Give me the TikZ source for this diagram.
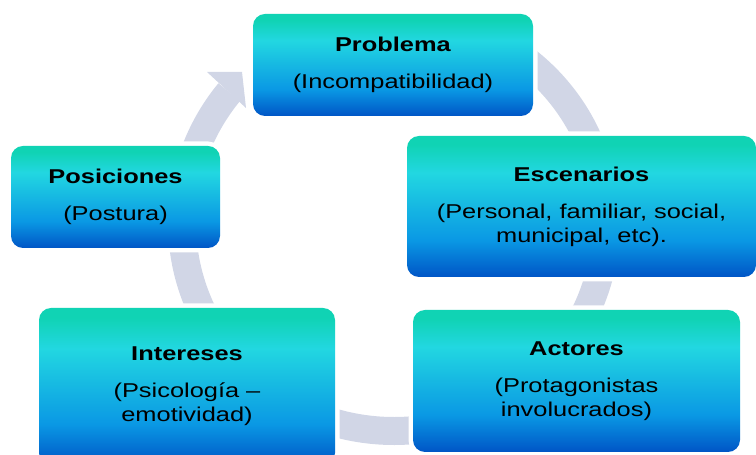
\documentclass[tikz,border=0pt]{standalone}
\usepackage{fontspec}
\setmainfont{Liberation Sans}[FakeStretch=1.27]

\definecolor{ringgray}{HTML}{D1D6E6}
\definecolor{boxtop}{HTML}{10D3B4}
\definecolor{boxcyan}{HTML}{22D7E1}
\definecolor{boxmid}{HTML}{0A98E4}
\definecolor{boxbot}{HTML}{0055C6}
\pgfdeclareverticalshading{boxshade}{100bp}{color(0bp)=(boxbot); color(25bp)=(boxbot); color(38bp)=(boxmid); color(62bp)=(boxcyan); color(72bp)=(boxtop); color(100bp)=(boxtop)}

\tikzset{
	stage/.style={rectangle, rounded corners=12pt, shade, shading=boxshade, align=center, inner sep=0pt, font=\fontsize{20}{24}\selectfont, preaction={draw=white, line width=9pt}},
}

\begin{document}
\begin{tikzpicture}[x=1pt, y=1pt]
	\useasboundingbox (0,0) rectangle (756,455);
	\coordinate (ctr) at (394,232);
	\coordinate (tip) at (242,383);

	\draw [ringgray, line width=28pt] ([shift={(52:212 and 208)}]ctr) arc [start angle=52, end angle=-219, x radius=212, y radius=208];
	\fill [ringgray] (207,383) -- (tip) -- (246,347) -- cycle;

	\node [stage, minimum width=280pt, minimum height=102pt] (prob) at (393,390) {\textbf{Problema}\\[13pt](Incompatibilidad)};
	\node [stage, minimum width=349pt, minimum height=141pt] (esc) at (581.5,248.5) {\textbf{Escenarios}\\[13pt](Personal, familiar, social,\\municipal, etc).};
	\node [stage, minimum width=327pt, minimum height=142pt] (act) at (576.5,74) {\textbf{Actores}\\[13pt](Protagonistas\\involucrados)};
	\node [stage, minimum width=296pt, minimum height=157pt] (inter) at (187,68.5) {\textbf{Intereses}\\[13pt](Psicología –\\emotividad)};
	\node [stage, minimum width=209pt, minimum height=102pt] (pos) at (115.5,258) {\textbf{Posiciones}\\[13pt](Postura)};
\end{tikzpicture}
\end{document}
